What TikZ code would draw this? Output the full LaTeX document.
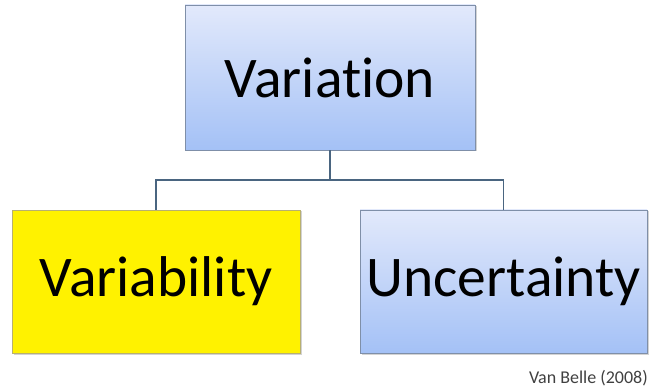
\documentclass[tikz,border=0pt]{standalone}
\usepackage{fontspec}
\setmainfont[Ligatures=NoCommon]{Carlito}
\usetikzlibrary{shadows}
\definecolor{boxtop}{HTML}{E2E9FB}
\definecolor{boxbot}{HTML}{A4C1F6}
\definecolor{boxline}{HTML}{7F8FA8}
\definecolor{linkline}{HTML}{4A6580}
\definecolor{yelline}{HTML}{B8B070}
\begin{document}
\begin{tikzpicture}[x=1pt,y=-1pt,
  bluebox/.style={draw=boxline, line width=0.8pt, top color=boxtop, bottom color=boxbot,
    drop shadow={shadow xshift=1.5pt, shadow yshift=-1.5pt, opacity=0.35},
    minimum height=144pt, inner sep=0pt, font=\fontsize{57.5}{60}\selectfont},
  yelbox/.style={draw=yelline, line width=0.8pt, fill=yellow,
    drop shadow={shadow xshift=1.5pt, shadow yshift=-1.5pt, opacity=0.35},
    minimum height=144pt, inner sep=0pt, font=\fontsize{57.5}{60}\selectfont},
  link/.style={draw=linkline, line width=1.6pt}]
\useasboundingbox (0,0) rectangle (655,387);
\node[bluebox, minimum width=290pt, minimum height=145pt] (top) at (330,77.5) {Variation};
\node[yelbox, minimum width=288pt, minimum height=143pt] (left) at (156,281.5) {Variability};
\node[bluebox, minimum width=287pt, minimum height=143pt] (right) at (503.5,281.5) {Uncertainty};
\coordinate (mid) at (330,180);
\draw[link] (top.south) -- (mid) -| (left.north);
\draw[link] (mid) -| (right.north);
\node[anchor=base east, inner sep=0pt, text=black!75, font=\fontsize{18}{20}\selectfont] (cite) at (648,383) {Van Belle (2008)};
\end{tikzpicture}
\end{document}
